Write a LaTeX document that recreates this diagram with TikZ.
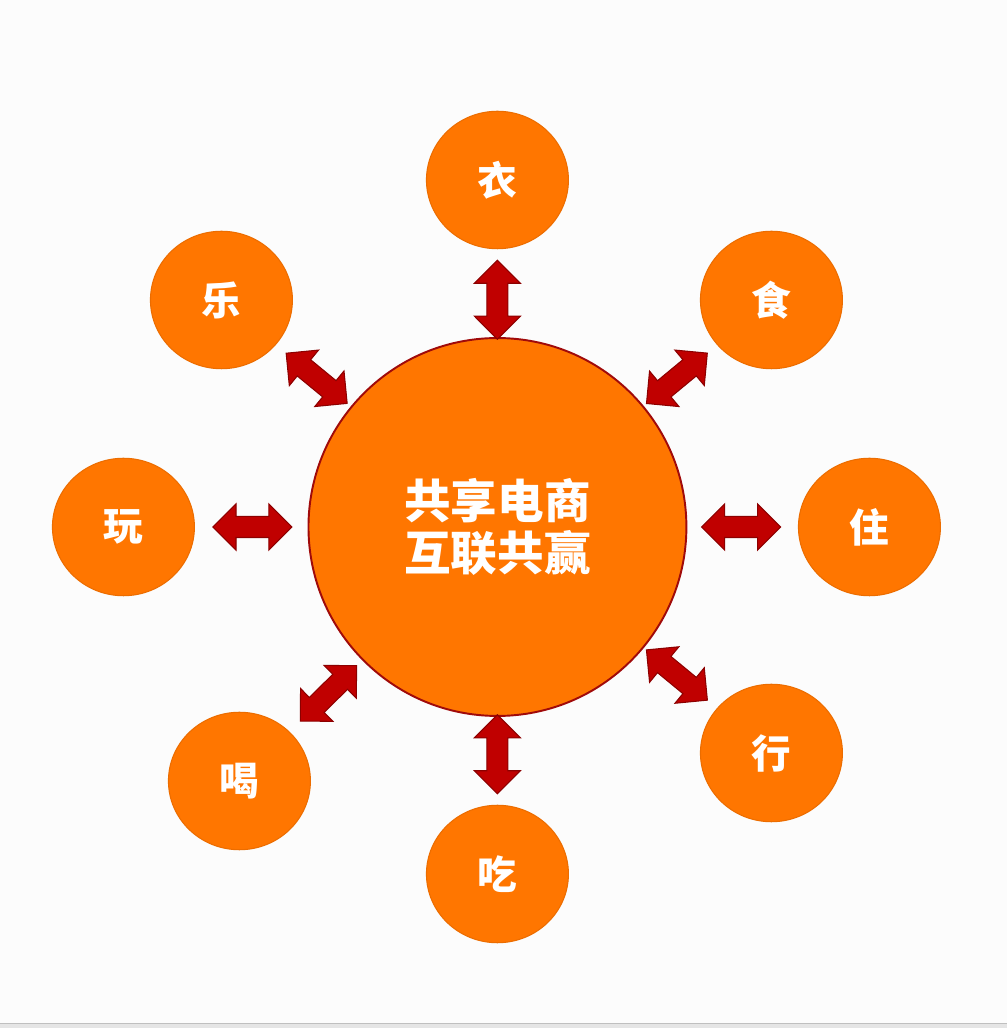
\documentclass[tikz,border=0pt]{standalone}
\usepackage{fontspec}
\newfontfamily\cjk{Noto Sans CJK SC}
\usetikzlibrary{shapes.geometric, shapes.arrows}

\definecolor{juhuang}{HTML}{FF7600}
\definecolor{juhuangbian}{HTML}{EC6D00}
\definecolor{anhong}{HTML}{C00000}
\definecolor{anhongbian}{HTML}{8C0000}
\definecolor{shenhong}{HTML}{A00A0A}

\begin{document}
\begin{tikzpicture}[x=0.02cm, y=0.02cm]

\tikzstyle{hub} = [circle, fill=juhuang, draw=shenhong, line width=1.1pt, minimum size=7.56cm,
                   inner sep=0pt, text=white, align=center,
                   font=\cjk\bfseries\fontsize{26.5}{30}\selectfont]
\tikzstyle{ye} = [ellipse, fill=juhuang, draw=juhuangbian, line width=0.6pt,
                  minimum width=2.84cm, minimum height=2.75cm, inner sep=0pt, text=white,
                  font=\cjk\bfseries\fontsize{22.5}{24}\selectfont]
\tikzstyle{shuang} = [double arrow, fill=anhong, draw=anhongbian, line width=0.6pt,
                      minimum height=1.58cm, minimum width=0.9cm, double arrow head extend=0.25cm,
                      inner xsep=0pt, inner ysep=0.2cm, sloped]

% page background and bottom strip
\fill[white!99!black] (0,0) rectangle (1007,1028);
\fill[gray!20] (0,0) rectangle (1007,5);
\draw[gray!50, line width=0.5pt] (0,5) -- (1007,5);
\useasboundingbox (0,0) rectangle (1007,1028);

% centre
\node[hub] (hub) at (497,501) {共享电商\\互联共赢};

% outer circles
\foreach \n/\x/\y/\t in {yi/497/848/衣, shi/771/728/食, zhu/869/501/住, xing/771/275/行,
                         chi/497/154/吃, he/239/247/喝, wan/123/501/玩, le/221/728/乐}
    \node[ye] (\n) at (\x,\y) {\t};

% double arrows between centre and each circle
\foreach \n in {yi,shi,zhu,xing,chi,he,wan,le}
    \path (hub.center) -- (\n.center) node[shuang, pos=0.655] {};

\end{tikzpicture}
\end{document}
